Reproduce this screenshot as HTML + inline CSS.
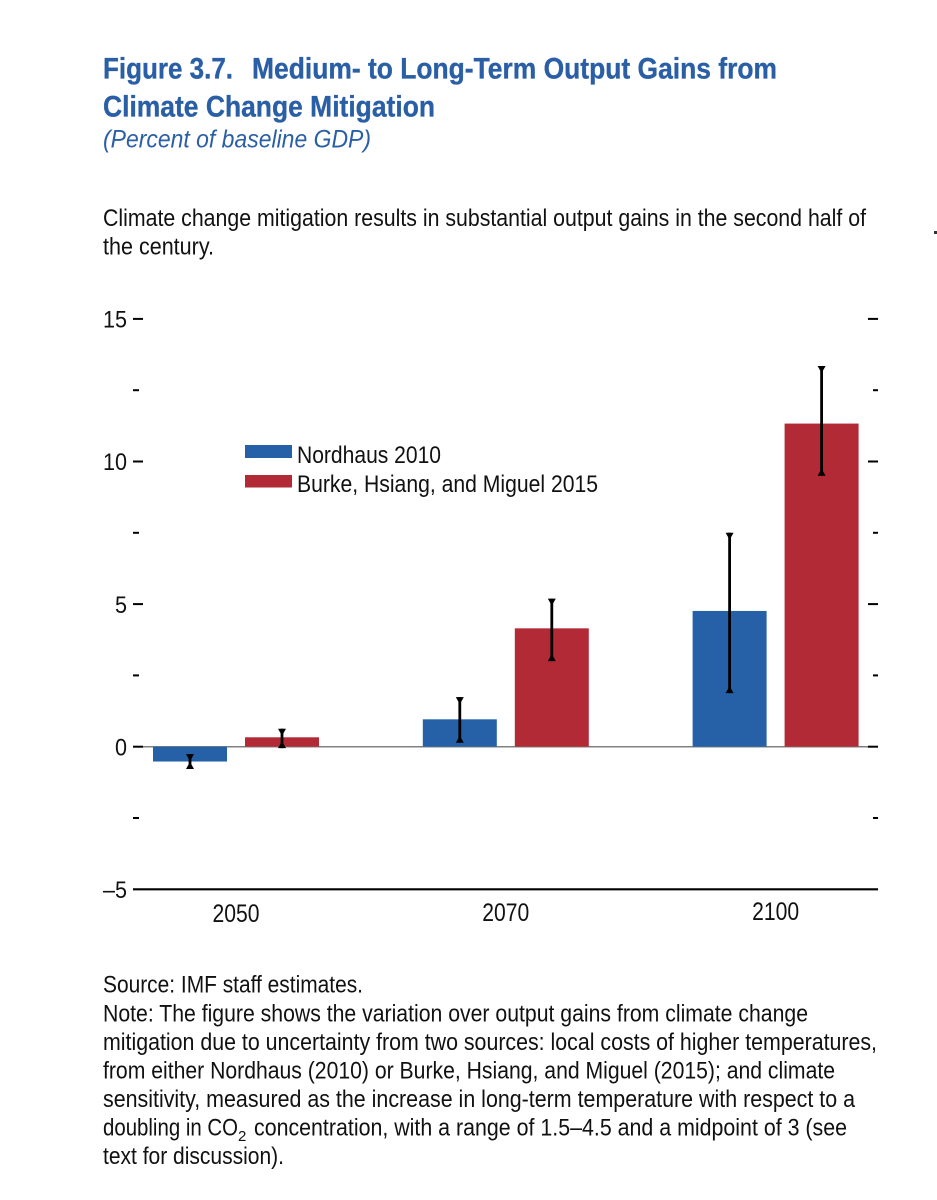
<!DOCTYPE html>
<html lang="en">
<head>
<meta charset="utf-8">
<title>Figure 3.7. Medium- to Long-Term Output Gains from Climate Change Mitigation</title>
<style>
  html, body { margin: 0; padding: 0; background: #ffffff; }
  body { width: 937px; height: 1200px; overflow: hidden; }
  svg { display: block; }
  text { font-family: "Liberation Sans", sans-serif; fill: #111111; }
  .title { font-size: 30px; font-weight: 700; fill: #2a5fa6; stroke: #2a5fa6; stroke-width: 0.35px; }
  .subtitle { font-size: 25px; font-style: italic; fill: #2a5fa6; }
  .body { font-size: 24px; }
  .note { font-size: 24px; }
  .tick { font-size: 24px; }
  .xlabel { font-size: 25px; }
</style>
</head>
<body>
<svg id="chart" xmlns="http://www.w3.org/2000/svg" width="937" height="1200" viewBox="0 0 937 1200">
  <rect width="937" height="1200" fill="#ffffff"/>

  <text class="title" x="103" y="78.5" textLength="130" lengthAdjust="spacingAndGlyphs">Figure 3.7.</text>
  <text class="title" x="252" y="78.5" textLength="525" lengthAdjust="spacingAndGlyphs">Medium- to Long-Term Output Gains from</text>
  <text class="title" x="103" y="116.5" textLength="332" lengthAdjust="spacingAndGlyphs">Climate Change Mitigation</text>
  <text class="subtitle" x="103" y="147.5" textLength="268" lengthAdjust="spacingAndGlyphs">(Percent of baseline GDP)</text>

  <text class="body" x="103" y="226" textLength="763" lengthAdjust="spacingAndGlyphs">Climate change mitigation results in substantial output gains in the second half of</text>
  <text class="body" x="103" y="254.5" textLength="111" lengthAdjust="spacingAndGlyphs">the century.</text>
  <rect x="934" y="231" width="3" height="3" fill="#333333"/>

  <g id="plot"></g>

  <g>
    <rect x="245" y="445" width="47" height="13" fill="#2661a8"/>
    <text class="tick" x="297" y="463" textLength="144" lengthAdjust="spacingAndGlyphs">Nordhaus 2010</text>
    <rect x="245" y="475" width="47" height="12.5" fill="#b32a37"/>
    <text class="tick" x="297" y="492" textLength="301" lengthAdjust="spacingAndGlyphs">Burke, Hsiang, and Miguel 2015</text>
  </g>

  <g>
    <text class="note" x="103" y="992.5" textLength="260" lengthAdjust="spacingAndGlyphs">Source: IMF staff estimates.</text>
    <text class="note" x="103" y="1021.5" textLength="705" lengthAdjust="spacingAndGlyphs">Note: The figure shows the variation over output gains from climate change</text>
    <text class="note" x="103" y="1050" textLength="774" lengthAdjust="spacingAndGlyphs">mitigation due to uncertainty from two sources: local costs of higher temperatures,</text>
    <text class="note" x="103" y="1078.5" textLength="732" lengthAdjust="spacingAndGlyphs">from either Nordhaus (2010) or Burke, Hsiang, and Miguel (2015); and climate</text>
    <text class="note" x="103" y="1107" textLength="752" lengthAdjust="spacingAndGlyphs">sensitivity, measured as the increase in long-term temperature with respect to a</text>
    <text class="note" x="103" y="1135.5" textLength="135" lengthAdjust="spacingAndGlyphs">doubling in CO</text>
    <text x="238" y="1141" font-size="15">2</text>
    <text class="note" x="254" y="1135.5" textLength="593" lengthAdjust="spacingAndGlyphs">concentration, with a range of 1.5–4.5 and a midpoint of 3 (see</text>
    <text class="note" x="103" y="1164" textLength="181" lengthAdjust="spacingAndGlyphs">text for discussion).</text>
  </g>
</svg>

<script>
const categories = ["2050", "2070", "2100"];
const nordhausValues = [-0.52, 0.96, 4.76];
const burkeValues = [0.33, 4.15, 11.33];
const nordhausLow = [-0.78, 0.14, 1.88];
const nordhausHigh = [-0.26, 1.74, 7.5];
const burkeLow = [-0.05, 3.0, 9.5];
const burkeHigh = [0.63, 5.19, 13.35];
const yTickValues = [15, 10, 5, 0, -5];
const yTickLabels = ["15", "10", "5", "0", "–5"];
const yMinorValues = [12.5, 7.5, 2.5, -2.5];

const plot = document.getElementById('plot');
const NS = 'http://www.w3.org/2000/svg';
const yScale = function (v) { return 746.7 - v * 28.52; };
const groupCenter = function (i) { return 236 + i * 269.8; };
const BAR_OFFSET = 46;
const BAR_WIDTH = 74;
const BLUE = '#2661a8';
const RED = '#b32a37';

function make(tag, attrs, parent) {
  const el = document.createElementNS(NS, tag);
  for (const key in attrs) { el.setAttribute(key, attrs[key]); }
  (parent || plot).appendChild(el);
  return el;
}

// Zero line sits underneath the bars
const zeroLine = make('line', { x1: 143, x2: 878, y1: yScale(0), y2: yScale(0), stroke: '#808080', 'stroke-width': 1.5 });



function drawBar(value, cx, color, name) {
  const y0 = yScale(0);
  const y1 = yScale(value);
  const bar = make('rect', { x: cx - BAR_WIDTH / 2, y: Math.min(y0, y1), width: BAR_WIDTH, height: Math.abs(y1 - y0), fill: color });
  
  
}

function drawError(low, high, cx, name) {
  const top = yScale(high);
  const bottom = yScale(low);
  const g = make('g', {});
  
  
  make('line', { x1: cx, x2: cx, y1: top, y2: bottom, stroke: '#000000', 'stroke-width': 2.8 }, g);
  make('polygon', { points: (cx - 4) + ',' + top + ' ' + (cx + 4) + ',' + top + ' ' + cx + ',' + (top + 7), fill: '#000000' }, g);
  make('polygon', { points: (cx - 4) + ',' + bottom + ' ' + (cx + 4) + ',' + bottom + ' ' + cx + ',' + (bottom - 7), fill: '#000000' }, g);
}

categories.forEach(function (cat, i) {
  const c = groupCenter(i);
  drawBar(nordhausValues[i], c - BAR_OFFSET, BLUE, 'bar-nordhaus-' + cat);
  drawBar(burkeValues[i], c + BAR_OFFSET, RED, 'bar-burke-' + cat);
});

categories.forEach(function (cat, i) {
  const c = groupCenter(i);
  drawError(nordhausLow[i], nordhausHigh[i], c - BAR_OFFSET, 'error-bar-nordhaus-' + cat);
  drawError(burkeLow[i], burkeHigh[i], c + BAR_OFFSET, 'error-bar-burke-' + cat);
  const label = make('text', { class: 'xlabel', x: c - 23.5, y: 922 - i, textLength: 47, lengthAdjust: 'spacingAndGlyphs' });
  label.textContent = cat;
  
  
});

yTickValues.forEach(function (v, i) {
  const y = yScale(v);
  const text = yTickLabels[i];
  const w = text.length * 12;
  const label = make('text', { class: 'tick', x: 127 - w, y: y + 8.7, textLength: w, lengthAdjust: 'spacingAndGlyphs' });
  label.textContent = text;
  
  
  if (v !== yTickValues[yTickValues.length - 1]) {
    const left = make('line', { x1: 133, x2: 143, y1: y, y2: y, stroke: '#000000', 'stroke-width': 2 });
    
    
    const right = make('line', { x1: 868, x2: 878, y1: y, y2: y, stroke: '#000000', 'stroke-width': 2 });
    
    
  }
});

yMinorValues.forEach(function (v) {
  const y = yScale(v);
  const left = make('line', { x1: 133, x2: 139, y1: y, y2: y, stroke: '#000000', 'stroke-width': 2 });
  
  
  const right = make('line', { x1: 873, x2: 878, y1: y, y2: y, stroke: '#000000', 'stroke-width': 2 });
  
  
});

const xAxis = make('line', { x1: 133, x2: 878, y1: yScale(-5), y2: yScale(-5), stroke: '#000000', 'stroke-width': 2.2 });


</script>
</body>
</html>
